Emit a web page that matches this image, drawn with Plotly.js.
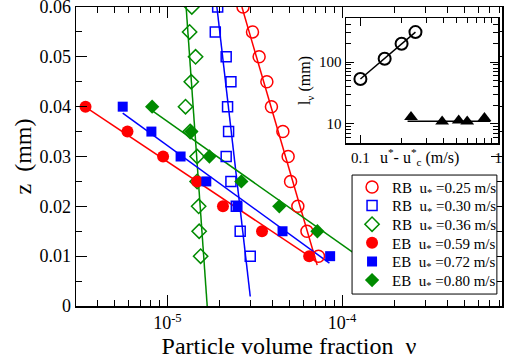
<!DOCTYPE html>
<html>
<head>
<meta charset="utf-8">
<script src="https://cdn.plot.ly/plotly-3.0.1.min.js"></script>
<style>html,body{margin:0;padding:0;background:#fff;}#chart{width:515px;height:360px;}</style>
</head>
<body>
<div id="chart"></div>
<script>
// ---- Data: height z (mm) levels and particle volume fraction values ----
const zRB = [0.06, 0.055, 0.05, 0.045, 0.04, 0.035, 0.03, 0.025, 0.02, 0.015, 0.01];
const nuRB025 = [2.71e-5, 3.07e-5, 3.35e-5, 3.71e-5, 3.94e-5, 4.58e-5, 4.91e-5, 5.07e-5, 5.58e-5, 6.29e-5, 7.32e-5];
const nuRB030 = [1.94e-5, 1.88e-5, 2.17e-5, 2.31e-5, 2.21e-5, 2.24e-5, 2.17e-5, 2.31e-5, 2.48e-5, 2.61e-5, 2.98e-5];
const nuRB036 = [1.38e-5, 1.34e-5, 1.45e-5, 1.37e-5, 1.27e-5, 1.35e-5, 1.48e-5, 1.48e-5, 1.51e-5, 1.52e-5, 1.55e-5];

const zEB = [0.04, 0.035, 0.03, 0.025, 0.02, 0.015, 0.01];
const nuEB059 = [3.40e-6, 5.91e-6, 9.45e-6, 1.48e-5, 2.08e-5, 3.48e-5, 6.48e-5];
const nuEB072 = [5.55e-6, 8.10e-6, 1.19e-5, 1.67e-5, 2.52e-5, 4.56e-5, 8.54e-5];
const zEB080 = [0.04, 0.035, 0.03, 0.025, 0.02, 0.015];
const nuEB080 = [8.18e-6, 1.37e-5, 1.74e-5, 2.65e-5, 4.37e-5, 7.22e-5];

// exponential fit lines (end points)
const fitZRB025 = [0.06, 0.0082];   const fitNuRB025 = [2.67e-5, 7.2e-5];
const fitZRB030 = [0.06, 0.0019];   const fitNuRB030 = [1.92e-5, 2.98e-5];
const fitZRB036 = [0.06, 0.0];      const fitNuRB036 = [1.28e-5, 1.69e-5];
const fitZEB059 = [0.04, 0.0092];   const fitNuEB059 = [3.37e-6, 7.01e-5];
const fitZEB072 = [0.0387, 0.0086]; const fitNuEB072 = [5.55e-6, 8.46e-5];
const fitZEB080 = [0.0392, 0.008];  const fitNuEB080 = [8.18e-6, 1.49e-4];

const legendNames = [
  'RB  u<sub>*</sub> =0.25 m/s', 'RB  u<sub>*</sub> =0.30 m/s', 'RB  u<sub>*</sub> =0.36 m/s',
  'EB  u<sub>*</sub> =0.59 m/s', 'EB  u<sub>*</sub> =0.72 m/s', 'EB  u<sub>*</sub> =0.80 m/s'
];

// inset: l_nu vs u* - u*_c
const insetRBx = [0.10, 0.150, 0.199, 0.251];
const insetRBy = [53, 113, 198, 306];
const insetEBx = [0.233, 0.392, 0.517, 0.596, 0.795];
const insetEBy = [12.9, 10.9, 11.3, 10.9, 12.4];
const insetEBfitX = [0.22, 0.88];
const insetEBfitY = [11.0, 11.0];

// tick labels
const xTickVals = [1e-5, 1e-4];
const xTickText = ['10<sup>-5</sup>', '10<sup>-4</sup>'];
const xMinorVals = [3e-6,4e-6,5e-6,6e-6,7e-6,8e-6,9e-6,2e-5,3e-5,4e-5,5e-5,6e-5,7e-5,8e-5,9e-5,2e-4,3e-4,4e-4,5e-4,6e-4,7e-4,8e-4];
const yTickVals = [0, 0.01, 0.02, 0.03, 0.04, 0.05, 0.06];
const yTickText = ['0', '0.01', '0.02', '0.03', '0.04', '0.05', '0.06'];
const yMinorVals = [0.005, 0.015, 0.025, 0.035, 0.045, 0.055];
const insetXTickVals = [0.1, 1];
const insetXTickText = ['0.1', '1'];
const insetXMinor = [0.2,0.3,0.4,0.5,0.6,0.7,0.8,0.9];
const insetYTickVals = [10, 100];
const insetYTickText = ['10', '100'];
const insetYMinor = [5,6,7,8,9,20,30,40,50,60,70,80,90,200,300,400,500];

const RED = '#ff0000', BLUE = '#0000ff', GREEN = '#008b00';
const F = 'Liberation Serif, Times New Roman, serif';

function fit(z, nu, color) {
  return {x: nu, y: z, mode: 'lines', line: {color: color, width: 1.5}, showlegend: false, hoverinfo: 'skip', xaxis: 'x', yaxis: 'y'};
}
function pts(z, nu, name, symbol, color, size, leg) {
  const open = symbol.indexOf('open') >= 0;
  return {x: nu, y: z, mode: 'markers', name: name, xaxis: 'x', yaxis: 'y', legend: leg,
    marker: {symbol: symbol, size: size, color: color, line: {color: color, width: open ? 1.5 : 0}}};
}

const legendIds = ['legend', 'legend2', 'legend3', 'legend4', 'legend5', 'legend6'];

const traces = [
  fit(fitZRB025, fitNuRB025, RED),
  fit(fitZRB030, fitNuRB030, BLUE),
  fit(fitZRB036, fitNuRB036, GREEN),
  fit(fitZEB059, fitNuEB059, RED),
  fit(fitZEB072, fitNuEB072, BLUE),
  fit(fitZEB080, fitNuEB080, GREEN),
  pts(zRB, nuRB025, legendNames[0], 'circle-open', RED, 12, legendIds[0]),
  pts(zRB, nuRB030, legendNames[1], 'square-open', BLUE, 10, legendIds[1]),
  pts(zRB, nuRB036, legendNames[2], 'diamond-open', GREEN, 11, legendIds[2]),
  pts(zEB, nuEB059, legendNames[3], 'circle', RED, 12, legendIds[3]),
  pts(zEB, nuEB072, legendNames[4], 'square', BLUE, 10, legendIds[4]),
  pts(zEB080, nuEB080, legendNames[5], 'diamond', GREEN, 11, legendIds[5]),
  {x: insetRBx, y: insetRBy, xaxis: 'x2', yaxis: 'y2', mode: 'lines+markers', showlegend: false,
   line: {color: '#000', width: 1.5}, marker: {symbol: 'circle-open', size: 12, color: '#000', line: {color: '#000', width: 2}}},
  {x: insetEBfitX, y: insetEBfitY, xaxis: 'x2', yaxis: 'y2', mode: 'lines', showlegend: false,
   line: {color: '#000', width: 1.5}},
  {x: insetEBx, y: insetEBy, xaxis: 'x2', yaxis: 'y2', mode: 'markers', showlegend: false,
   marker: {symbol: 'triangle-up', size: 12, color: '#000'}}
];

const layout = {
  width: 515, height: 360,
  margin: {l: 76, r: 13, t: 7, b: 54},
  paper_bgcolor: '#fff', plot_bgcolor: '#fff',
  font: {family: F, color: '#000', size: 18},
  showlegend: true,
  shapes: [{type: 'rect', xref: 'paper', yref: 'paper', x0: 0.648, x1: 0.988, y0: 0.040, y1: 0.438,
            fillcolor: '#fff', line: {color: '#000', width: 1}, layer: 'above'}],
  annotations: [{xref: 'x2 domain', yref: 'y2 domain', x: 0.48, y: -0.115, xanchor: 'center', yanchor: 'middle',
                 showarrow: false, text: 'u<sup>*</sup>- u<sup>*</sup><sub>c</sub> (m/s)',
                 font: {family: F, size: 16, color: '#000'}}],
  xaxis: {type: 'log', range: [-5.523, -3.085], showgrid: false, zeroline: false,
          showline: true, linecolor: '#000', linewidth: 1.5, mirror: 'allticks',
          ticks: 'inside', ticklen: 11, tickwidth: 1, tickcolor: '#000',
          tickmode: 'array', tickvals: xTickVals, ticktext: xTickText, ticklabeloverflow: 'allow',
          tickfont: {family: F, size: 18},
          minor: {tickmode: 'array', tickvals: xMinorVals, ticks: 'inside', ticklen: 6, tickwidth: 1, tickcolor: '#000', showgrid: false},
          title: {text: 'Particle volume fraction  ν', font: {family: F, size: 24}, standoff: 2}},
  yaxis: {range: [0, 0.06], showgrid: false, zeroline: false,
          showline: true, linecolor: '#000', linewidth: 1.5, mirror: 'allticks',
          ticks: 'inside', ticklen: 11, tickwidth: 1, tickcolor: '#000',
          tickmode: 'array', tickvals: yTickVals, ticktext: yTickText, ticklabeloverflow: 'allow',
          tickfont: {family: F, size: 18},
          minor: {tickmode: 'array', tickvals: yMinorVals, ticks: 'inside', ticklen: 6, tickwidth: 1, tickcolor: '#000', showgrid: false},
          title: {text: 'z  (mm)', font: {family: F, size: 24}, standoff: 1}},
  xaxis2: {type: 'log', domain: [0.634, 0.991], anchor: 'y2', range: [-1.104, 0],
           showgrid: false, zeroline: false, showline: true, linecolor: '#000', linewidth: 1.5, mirror: 'allticks',
           ticks: 'inside', ticklen: 8, tickwidth: 1, tickcolor: '#000',
           tickmode: 'array', tickvals: insetXTickVals, ticktext: insetXTickText, ticklabeloverflow: 'allow',
           tickfont: {family: F, size: 15},
           minor: {tickmode: 'array', tickvals: insetXMinor, ticks: 'inside', ticklen: 5, tickwidth: 1, tickcolor: '#000', showgrid: false}},
  yaxis2: {type: 'log', domain: [0.545, 0.963], anchor: 'x2', range: [0.687, 2.713],
           showgrid: false, zeroline: false, showline: true, linecolor: '#000', linewidth: 1.5, mirror: 'allticks',
           ticks: 'inside', ticklen: 8, tickwidth: 1, tickcolor: '#000',
           tickmode: 'array', tickvals: insetYTickVals, ticktext: insetYTickText, ticklabeloverflow: 'allow',
           tickfont: {family: F, size: 15},
           minor: {tickmode: 'array', tickvals: insetYMinor, ticks: 'inside', ticklen: 5, tickwidth: 1, tickcolor: '#000', showgrid: false},
           title: {text: 'l<sub>ν</sub> (mm)', font: {family: F, size: 16}, standoff: 4}}
};

// six single-entry legends stacked inside the framed box
const legendRowY = [0.397, 0.335, 0.2726, 0.2104, 0.1482, 0.0860];
legendIds.forEach(function (id, i) {
  layout[id] = {x: 0.648, y: legendRowY[i], xanchor: 'left', yanchor: 'middle',
                bgcolor: 'rgba(0,0,0,0)', borderwidth: 0,
                font: {family: F, size: 15, color: '#000'}};
});

Plotly.newPlot('chart', traces, layout, {displayModeBar: false, staticPlot: true});
</script>
</body>
</html>
